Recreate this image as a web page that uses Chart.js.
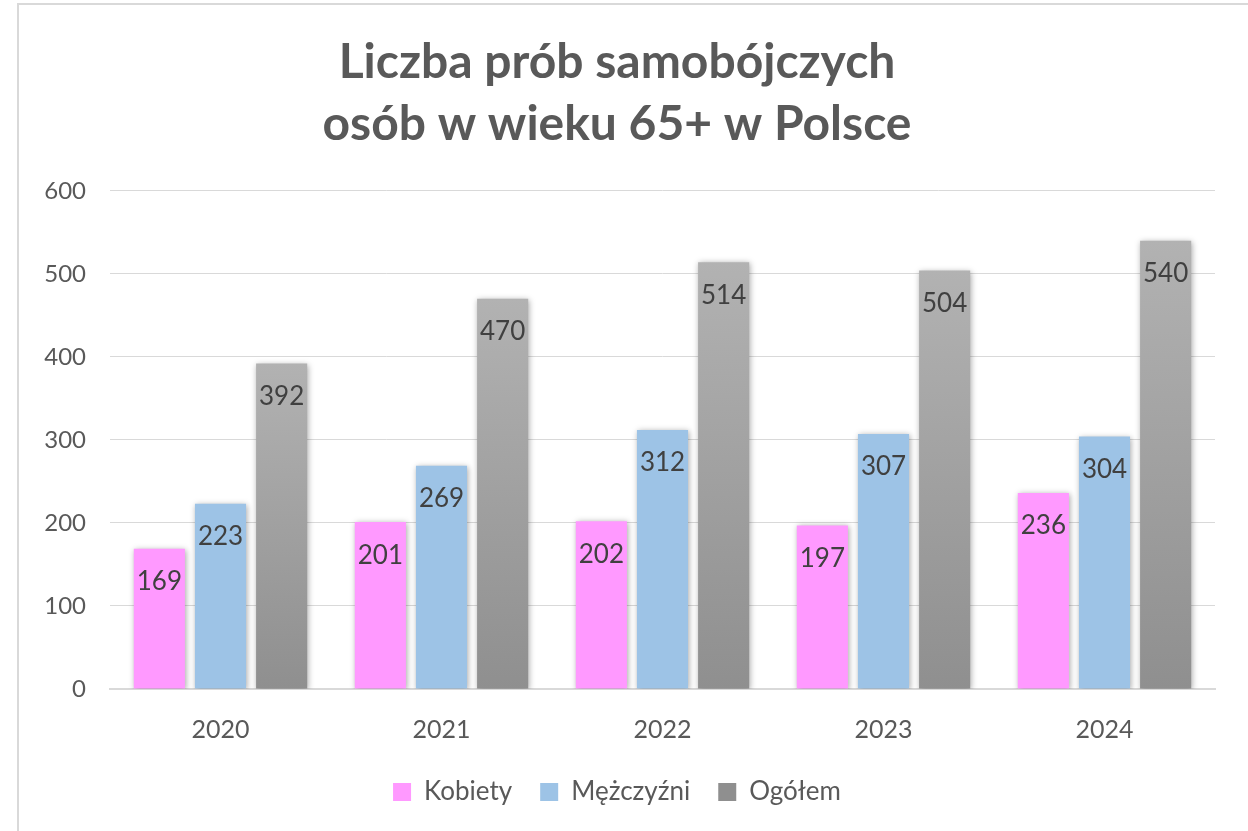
<!DOCTYPE html>
<html>
<head>
<meta charset="utf-8">
<script src="https://cdn.jsdelivr.net/npm/chart.js@4/dist/chart.umd.min.js"></script>
<style>
  html, body { margin: 0; padding: 0; background: #fff; }
  #wrap { position: absolute; left: 0; top: 0; width: 1248px; height: 831px; }
  #frame { position: absolute; left: 17px; top: 3px; width: 1300px; height: 900px; border: 2px solid #d9d9d9; box-sizing: border-box; pointer-events: none; }
</style>
</head>
<body>
<div id="wrap"><canvas id="c" width="1248" height="831"></canvas></div>
<div id="frame"></div>
<script>
const titleLines = ['Liczba prób samobójczych', 'osób w wieku 65+ w Polsce'];
const categories = ['2020', '2021', '2022', '2023', '2024'];
const kobiety = [169, 201, 202, 197, 236];
const mezczyzni = [223, 269, 312, 307, 304];
const ogolem = [392, 470, 514, 504, 540];
const seriesNames = ['Kobiety', 'Mężczyźni', 'Ogółem'];
const yTicks = [0, 100, 200, 300, 400, 500, 600];

const FONT = 'Lato, Carlito, Calibri, "Open Sans", sans-serif';
const TEXT = '#595959';

function grayFill(ctx) {
  const chart = ctx.chart;
  if (!chart.chartArea || ctx.type !== 'data') return '#a6a6a6';
  const ys = chart.scales.y;
  const top = ys.getPixelForValue(ctx.raw);
  const bottom = ys.getPixelForValue(0);
  const g = chart.ctx.createLinearGradient(0, top, 0, bottom);
  g.addColorStop(0, '#b2b2b2');
  g.addColorStop(1, '#8f8f8f');
  return g;
}

const shadowPlugin = {
  id: 'barShadow',
  beforeDatasetDraw(chart) {
    const c = chart.ctx;
    c.save();
    c.shadowColor = 'rgba(0,0,0,0.35)';
    c.shadowBlur = 6;
    c.shadowOffsetX = 1;
    c.shadowOffsetY = 1;
  },
  afterDatasetDraw(chart) {
    chart.ctx.restore();
  }
};

const labelPlugin = {
  id: 'barLabels',
  afterDatasetsDraw(chart) {
    const c = chart.ctx;
    c.save();
    c.font = '26px ' + FONT;
    c.fillStyle = '#404040';
    c.textAlign = 'center';
    c.textBaseline = 'middle';
    chart.data.datasets.forEach((ds, i) => {
      const meta = chart.getDatasetMeta(i);
      meta.data.forEach((bar, j) => {
        c.fillText(String(ds.data[j]), bar.x, bar.y + 33);
      });
    });
    c.restore();
  }
};

new Chart(document.getElementById('c'), {
  type: 'bar',
  data: {
    labels: categories,
    datasets: [
      { label: seriesNames[0], data: kobiety, backgroundColor: '#ff99ff' },
      { label: seriesNames[1], data: mezczyzni, backgroundColor: '#9dc3e6' },
      { label: seriesNames[2], data: ogolem, backgroundColor: grayFill }
    ]
  },
  options: {
    responsive: false,
    animation: false,
    devicePixelRatio: 1,
    categoryPercentage: 0.83,
    barPercentage: 0.836,
    layout: { padding: { left: 19, right: 33, top: 0, bottom: 16 } },
    scales: {
      x: {
        grid: { display: false, drawTicks: false },
        border: { display: true, color: '#d9d9d9', width: 2 },
        ticks: { color: TEXT, font: { family: FONT, size: 25 }, padding: 26 },
        afterFit(s) { s.height = 62; }
      },
      y: {
        min: 0, max: 600,
        afterBuildTicks(s) { s.ticks = yTicks.map(v => ({ value: v })); },
        grid: { color: '#d9d9d9', lineWidth: 1, drawTicks: false },
        border: { display: false },
        ticks: { color: TEXT, font: { family: FONT, size: 24 }, padding: 24 },
        afterFit(s) { s.width = 91; }
      }
    },
    plugins: {
      title: {
        display: true,
        text: titleLines,
        color: TEXT,
        font: { family: FONT, size: 48, weight: 'bold', lineHeight: 1.29 },
        padding: { top: 32, bottom: 35 }
      },
      legend: {
        position: 'bottom',
        labels: {
          color: TEXT,
          font: { family: FONT, size: 26 },
          boxWidth: 18,
          boxHeight: 18,
          padding: 28
        }
      },
      tooltip: { enabled: false }
    }
  },
  plugins: [shadowPlugin, labelPlugin]
});
</script>
</body>
</html>
